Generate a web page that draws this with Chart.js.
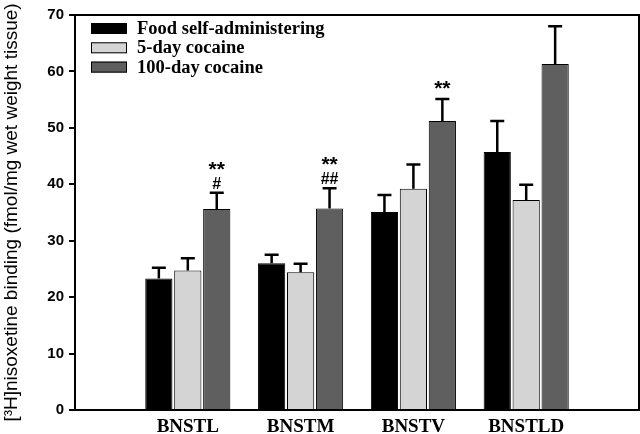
<!DOCTYPE html>
<html>
<head>
<meta charset="utf-8">
<script src="https://cdn.jsdelivr.net/npm/chart.js@4.4.1/dist/chart.umd.min.js"></script>
<style>
  body { margin: 0; background: #fff; }
  #wrap { width: 640px; height: 434px; }
</style>
</head>
<body>
<div id="wrap"><canvas id="myChart"></canvas></div>
<script>
// data
var regions = ['BNSTL', 'BNSTM', 'BNSTV', 'BNSTLD'];
var food = [23.3, 26.0, 35.1, 45.7];
var foodErr = [1.9, 1.5, 3.0, 5.5];
var coc5 = [24.7, 24.4, 39.2, 37.2];
var coc5Err = [2.2, 1.5, 4.3, 2.7];
var coc100 = [35.6, 35.7, 51.2, 61.3];
var coc100Err = [2.9, 3.6, 3.9, 6.7];
var marks100 = [['**', '#'], ['**', '##'], ['**'], []];
var yTicks = [0, 10, 20, 30, 40, 50, 60, 70];

// empty slot on both sides of the groups
function pad(arr) { return [null].concat(arr).concat([null]); }
var labels = [''].concat(regions).concat(['']);

var chartdata = {
    labels: labels,
    datasets: [
        { label: 'Food self-administering', backgroundColor: '#000000', data: pad(food), err: pad(foodErr) },
        { label: '5-day cocaine', backgroundColor: '#d4d4d4', data: pad(coc5), err: pad(coc5Err) },
        { label: '100-day cocaine', backgroundColor: '#5f5f5f', data: pad(coc100), err: pad(coc100Err), marks: pad(marks100) }
    ]
};
chartdata.datasets.forEach(function(ds){
    ds.borderColor = '#000';
    ds.borderWidth = 1;
    ds.categoryPercentage = 0.77;
    ds.barPercentage = 0.94;
});

var extras = {
    id: 'extras',
    afterDatasetsDraw: function(chart) {
        var ctx = chart.ctx;
        var y = chart.scales.y;
        var a = chart.chartArea;
        ctx.save();
        // error bars, upward only
        chart.data.datasets.forEach(function(ds, di){
            var meta = chart.getDatasetMeta(di);
            meta.data.forEach(function(bar, i){
                if (ds.data[i] == null) return;
                var top = y.getPixelForValue(ds.data[i] + ds.err[i]);
                ctx.strokeStyle = '#000';
                ctx.lineWidth = 2.5;
                ctx.beginPath();
                ctx.moveTo(bar.x, bar.y);
                ctx.lineTo(bar.x, top);
                ctx.moveTo(bar.x - 7, top);
                ctx.lineTo(bar.x + 7, top);
                ctx.stroke();
                // significance marks, stacked above the error bar
                var m = ds.marks ? ds.marks[i] : null;
                if (!m || !m.length) return;
                ctx.fillStyle = '#000';
                ctx.textAlign = 'center';
                ctx.textBaseline = 'alphabetic';
                if (m.length == 1) {
                    ctx.font = 'bold 21px "Liberation Sans", Arial';
                    ctx.fillText(m[0], bar.x, top - 4);
                } else {
                    ctx.font = 'bold 16px "Liberation Sans", Arial';
                    ctx.fillText(m[1], bar.x, top - 4);
                    ctx.font = 'bold 21px "Liberation Sans", Arial';
                    ctx.fillText(m[0], bar.x, top - 17);
                }
            });
        });
        // frame on top and right
        ctx.strokeStyle = '#000';
        ctx.lineWidth = 2;
        ctx.beginPath();
        ctx.moveTo(a.left, a.top);
        ctx.lineTo(a.right, a.top);
        ctx.lineTo(a.right, a.bottom);
        ctx.stroke();
        // legend inside the plot
        ctx.font = 'bold 18.5px "Liberation Serif", "Times New Roman", serif';
        ctx.textAlign = 'left';
        ctx.textBaseline = 'alphabetic';
        chart.data.datasets.forEach(function(ds, di){
            var by = 23 + di * 19.3;
            ctx.fillStyle = ds.backgroundColor;
            ctx.fillRect(91, by, 36, 11);
            ctx.lineWidth = 1;
            ctx.strokeRect(91.5, by + 0.5, 35, 10);
            ctx.fillStyle = '#000';
            ctx.fillText(ds.label, 137, by + 11);
        });
        ctx.restore();
    }
};

var options = {
    responsive: true,
    maintainAspectRatio: false,
    animation: false,
    layout: { padding: { top: 15, right: 1, left: 0, bottom: 0 } },
    plugins: { legend: { display: false }, tooltip: { enabled: false } },
    scales: {
        x: {
            offset: false,
            grid: { display: false },
            border: { display: true, color: '#000', width: 2 },
            ticks: {
                color: '#000',
                padding: -2,
                autoSkip: false,
                maxRotation: 0,
                font: { family: '"Liberation Serif", "Times New Roman", serif', size: 19, weight: 'bold' }
            },
            afterFit: function(scale){ scale.height = 24; }
        },
        y: {
            min: 0,
            max: 70,
            afterBuildTicks: function(scale){ scale.ticks = yTicks.map(function(v){ return { value: v }; }); },
            grid: { drawOnChartArea: false, drawTicks: true, tickLength: 6, color: '#000', lineWidth: 2 },
            border: { display: true, color: '#000', width: 2 },
            ticks: {
                color: '#000',
                padding: 5,
                font: { family: '"Liberation Sans", Arial', size: 15, weight: 'bold' }
            },
            title: {
                display: true,
                text: '[\u00b3H]nisoxetine binding (fmol/mg wet weight tissue)',
                color: '#000',
                padding: { top: 0, bottom: 2 },
                font: { family: '"Liberation Sans", Arial', size: 19 }
            },
            afterFit: function(scale){ scale.width = 75; }
        }
    }
};

var barGraph = new Chart(document.getElementById('myChart'), {
    type: 'bar',
    data: chartdata,
    options: options,
    plugins: [extras]
});
</script>
</body>
</html>
